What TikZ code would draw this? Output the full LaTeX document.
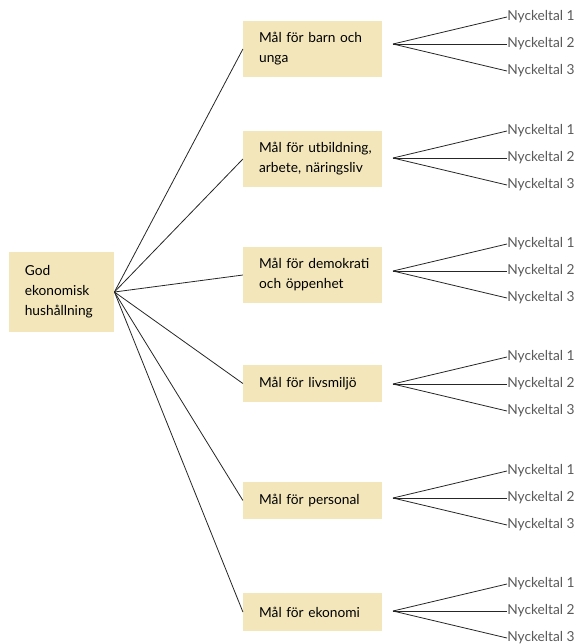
\documentclass[tikz,border=0pt]{standalone}
\usepackage{fontspec}
\setmainfont{Lato}
\usetikzlibrary{positioning}
\definecolor{goalfill}{RGB}{242,230,186}
\tikzstyle{goal} = [rectangle, fill=goalfill, align=left, inner xsep=4pt, text width=96pt, execute at begin node={\leftskip=8pt}, font=\fontsize{10.3}{15}\selectfont]
\tikzstyle{tall} = [minimum height=42pt]
\tikzstyle{flat} = [minimum height=28pt]
\tikzstyle{key} = [anchor=west, inner sep=0pt, text=black!65, font=\fontsize{10.3}{12}\selectfont]
\tikzstyle{branch} = [black!85, line width=0.6pt]

\begin{document}
\begin{tikzpicture}[x=0.75pt,y=-0.75pt]
\useasboundingbox (0,0) rectangle (578,644);

\node(main)[goal,text width=71pt,minimum height=60pt] at (61.5,292) {God\\ekonomisk\\hushållning};

\node(barn)[goal,tall] at (312.5,49) {Mål för barn och\\unga};
\node(utb)[goal,tall] at (312.5,159) {Mål för utbildning,\\arbete, näringsliv};
\node(demo)[goal,tall] at (312.5,275) {Mål för demokrati\\och öppenhet};
\node(liv)[goal,flat] at (312.5,383.5) {Mål för livsmiljö};
\node(pers)[goal,flat] at (312.5,500.5) {Mål för personal};
\node(eko)[goal,flat] at (312.5,612) {Mål för ekonomi};

% each goal gets three key figures
\foreach \g/\y in {barn/44, utb/158, demo/271, liv/384, pers/498, eko/611} {
  \coordinate (\g-fan) at (393,\y);
  \draw[branch] (main.east) -- (\g.west);
  \foreach \k/\d in {1/-27, 2/0, 3/27} {
    \node(\g-\k)[key] at (507,{\y+(\d)}) {Nyckeltal \k};
    \draw[branch] (\g-fan) -- (\g-\k.west);
  }
}

\end{tikzpicture}
\end{document}
